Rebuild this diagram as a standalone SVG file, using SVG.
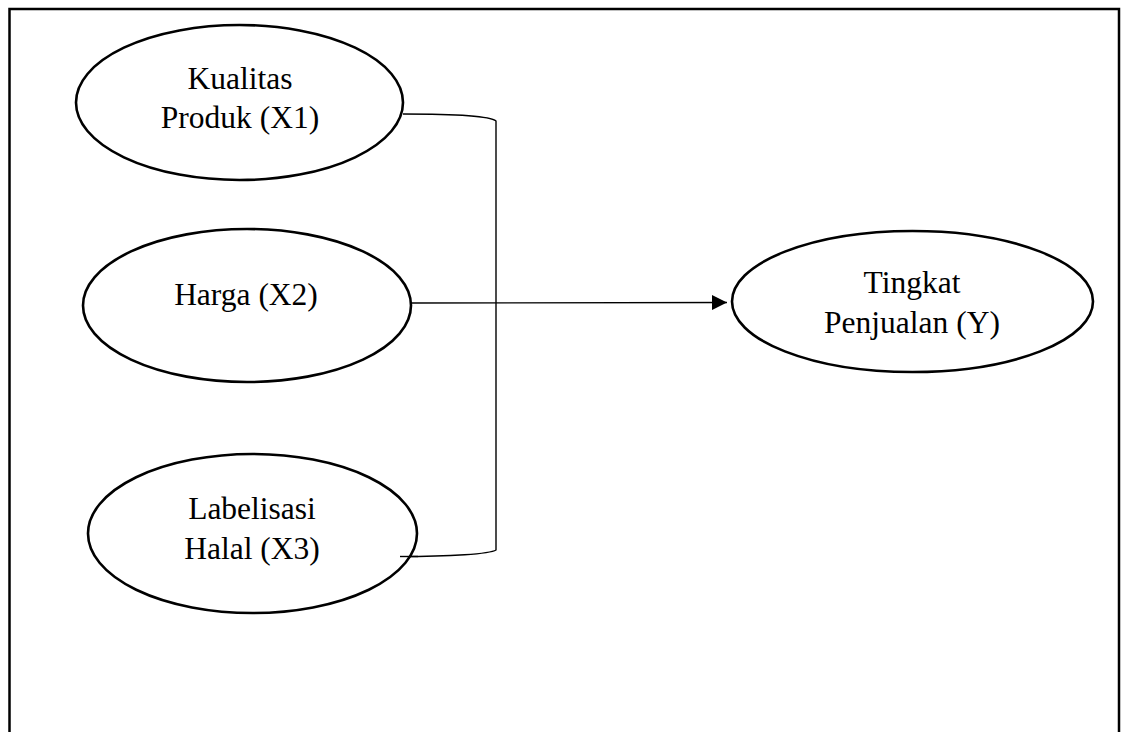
<svg xmlns="http://www.w3.org/2000/svg" width="1128" height="732" viewBox="0 0 1128 732">
<defs>
<style>
.node ellipse{fill:#fff;stroke:#000;stroke-width:2.6}
.node text{font-family:"Liberation Serif","Times New Roman",serif;font-size:31.5px;fill:#000;text-anchor:middle}
.conn{fill:none;stroke:#000;stroke-width:1.4}
</style>
<marker id="arrow" markerWidth="15" markerHeight="15" refX="15" refY="7.5" orient="auto" markerUnits="userSpaceOnUse">
<path d="M0,0 L15,7.5 L0,15 Z" fill="#000"/>
</marker>
</defs>
<rect x="0" y="0" width="1128" height="732" fill="#fff"/>
<rect id="frame" x="9.5" y="9" width="1109.5" height="760" fill="none" stroke="#000" stroke-width="2.5"/>
<g id="connectors">
<path class="conn" d="M403,114 C450,114 490,116 496,121 L496,550 C490,554 450,556.5 400,556.5"/>
<path class="conn" d="M411,303 L727,302.5" marker-end="url(#arrow)"/>
</g>
<g id="node-x1" class="node">
<ellipse cx="239.5" cy="102.5" rx="163.5" ry="77.5"/>
<text x="240" y="88.5">Kualitas</text>
<text x="240" y="127.5">Produk (X1)</text>
</g>
<g id="node-x2" class="node">
<ellipse cx="247" cy="305.5" rx="164" ry="76.5"/>
<text x="246" y="305">Harga (X2)</text>
</g>
<g id="node-x3" class="node">
<ellipse cx="252.5" cy="533.5" rx="164.5" ry="79.5"/>
<text x="252" y="519">Labelisasi</text>
<text x="252" y="559">Halal (X3)</text>
</g>
<g id="node-y" class="node">
<ellipse cx="912.5" cy="301.5" rx="180.5" ry="70.5"/>
<text x="912" y="293">Tingkat</text>
<text x="912" y="333">Penjualan (Y)</text>
</g>
<path class="conn" d="M400,556.5 L418,556.5"/>
</svg>
